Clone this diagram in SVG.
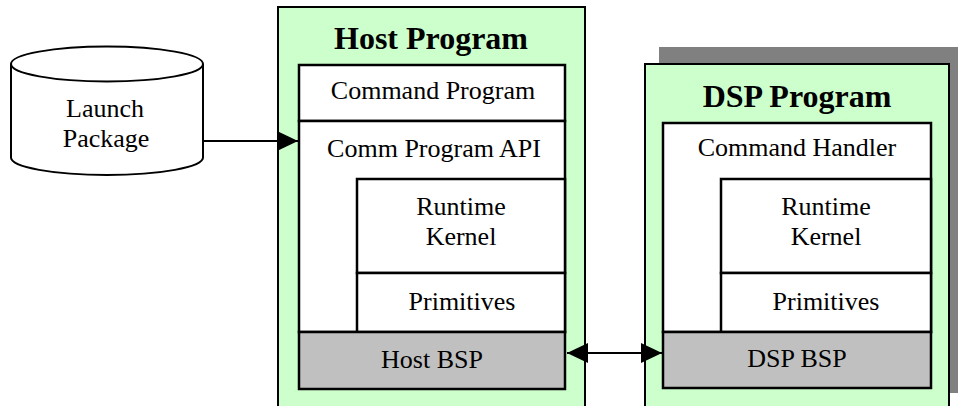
<svg xmlns="http://www.w3.org/2000/svg" width="958" height="406" viewBox="0 0 958 406">
<style>
.t{font-family:"Liberation Serif","Times New Roman",serif;font-size:26px;fill:#000;text-anchor:middle}
.h{font-family:"Liberation Serif","Times New Roman",serif;font-size:32px;font-weight:bold;fill:#000;text-anchor:middle}
.outer{fill:#CCFFCC;stroke:#000;stroke-width:2}
.box{fill:#fff;stroke:#000;stroke-width:2.5}
.bsp{fill:#C0C0C0;stroke:#000;stroke-width:2.5}
.ln{stroke:#000;stroke-width:2;fill:none}
</style>
<defs>
<marker id="ah" viewBox="0 0 10 10" refX="10" refY="5" markerWidth="10" markerHeight="10" markerUnits="userSpaceOnUse" orient="auto-start-reverse">
<path d="M0,0 L10,5 L0,10 Z" fill="#000"/>
</marker>
<marker id="ah2" viewBox="0 0 21 20" refX="21" refY="10" markerWidth="21" markerHeight="20" markerUnits="userSpaceOnUse" orient="auto-start-reverse">
<path d="M0,0 L21,10 L0,20 Z" fill="#000"/>
</marker>
</defs>
<rect width="958" height="406" fill="#fff"/>
<g id="launch-package">
<path d="M11,64 L11,157.5 A96,17.5 0 0 0 203,157.5 L203,64" fill="#fff" stroke="#000" stroke-width="2"/>
<ellipse cx="107" cy="64" rx="96" ry="17.5" fill="#fff" stroke="#000" stroke-width="2"/>
<text class="t" x="105" y="117">Launch</text>
<text class="t" x="106" y="147">Package</text>
</g>
<g id="host-program">
<rect class="outer" x="278" y="7" width="307" height="420"/>
<text class="h" x="431" y="49">Host Program</text>
<rect class="box" x="299" y="65" width="266" height="56"/>
<text class="t" x="433" y="99">Command Program</text>
<rect class="box" x="299" y="121" width="266" height="211"/>
<text class="t" x="434" y="157">Comm Program API</text>
<rect class="box" x="357" y="179" width="208" height="94"/>
<text class="t" x="461" y="215">Runtime</text>
<text class="t" x="461" y="245">Kernel</text>
<rect class="box" x="357" y="273" width="208" height="59"/>
<text class="t" x="462" y="310">Primitives</text>
<rect class="bsp" x="299" y="332" width="266" height="57"/>
<text class="t" x="432" y="368">Host BSP</text>
</g>
<g id="dsp-program">
<rect x="659" y="47" width="300" height="346" fill="#808080"/>
<rect class="outer" x="645" y="64" width="304" height="360"/>
<text class="h" x="797" y="107">DSP Program</text>
<rect class="box" x="663" y="123" width="268" height="209"/>
<text class="t" x="797" y="156">Command Handler</text>
<rect class="box" x="721" y="179" width="210" height="94"/>
<text class="t" x="826" y="215">Runtime</text>
<text class="t" x="826" y="245">Kernel</text>
<rect class="box" x="721" y="273" width="210" height="59"/>
<text class="t" x="826" y="310">Primitives</text>
<rect class="bsp" x="663" y="332" width="268" height="56"/>
<text class="t" x="797" y="367">DSP BSP</text>
</g>
<g id="connectors">
<line class="ln" x1="203" y1="141" x2="298" y2="141" marker-end="url(#ah2)"/>
<line class="ln" x1="567" y1="353" x2="662" y2="353" marker-start="url(#ah2)" marker-end="url(#ah2)"/>
</g>
</svg>
